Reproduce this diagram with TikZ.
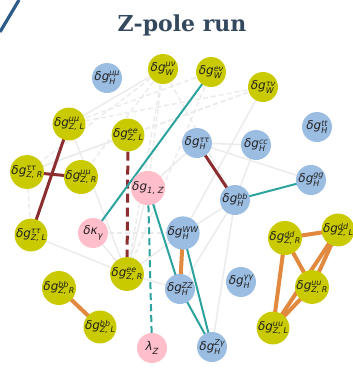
\documentclass[tikz,border=0pt]{standalone}
\usepackage{fontspec}
\setmainfont{DejaVu Sans}
\newfontfamily\titlefont{DejaVu Serif}
\usetikzlibrary{backgrounds}
\definecolor{yel}{RGB}{202,202,0}
\definecolor{blu}{RGB}{155,189,226}
\definecolor{pnk}{RGB}{255,190,202}
\definecolor{dred}{RGB}{140,45,48}
\definecolor{teal2}{RGB}{44,163,158}
\definecolor{orng}{RGB}{225,137,62}
\definecolor{ttl}{RGB}{52,73,94}
\definecolor{deco}{RGB}{44,92,135}
\definecolor{txt}{RGB}{34,34,34}
% superscript over subscript, both set after the symbol
\newcommand\supsub[2]{\raisebox{-0.55ex}{\vbox{\baselineskip=6.8pt\hbox{\fontsize{8}{8}\selectfont #1}\hbox{\fontsize{8}{8}\selectfont #2}}}}
\newcommand\dg[2]{δg\supsub{#1}{#2}}
\newcommand\lowidx[1]{\raisebox{-0.5ex}{\fontsize{8.5}{8.5}\selectfont #1}}
\tikzset{
  vtx/.style={circle, inner sep=0pt, minimum size=30pt, text=txt,
    font=\fontsize{12}{12}\selectfont\itshape},
  yv/.style={vtx, fill=yel},
  bv/.style={vtx, fill=blu},
  pv/.style={vtx, fill=pnk},
  faint/.style={draw=black!8, line width=1.4pt},
  faintd/.style={faint, dash pattern=on 5pt off 3pt},
  redl/.style={draw=dred, line width=3pt},
  tealline/.style={draw=teal2, line width=2pt},
  orl/.style={draw=orng, line width=4pt},
}
\begin{document}
\begin{tikzpicture}[x=1pt, y=-1pt]
\useasboundingbox (0,0) rectangle (353,381);

% corner decoration and title
\coordinate (d1) at (0,32);
\coordinate (d2) at (19,0);
\draw[deco, line width=3.2pt] (d1) -- (d2);
\node[anchor=base, text=ttl, font=\titlefont\bfseries\fontsize{22}{24}\selectfont] (title) at (182,31) {Z-pole run};

% vertices
\node[bv] (muH)  at (107,78)  {\dg{μμ}{H}};
\node[yv] (muW)  at (163,69)  {\dg{μν}{W}};
\node[yv] (eW)   at (211,72)  {\dg{eν}{W}};
\node[yv] (tauW) at (263,87)  {\dg{τν}{W}};
\node[yv] (muZL) at (69,124)  {\dg{μμ}{Z, L}};
\node[yv] (eeZL) at (128,135) {\dg{ee}{Z, L}};
\node[bv] (tauH) at (197,143) {\dg{ττ}{H}};
\node[bv] (ccH)  at (256,145) {\dg{cc}{H}};
\node[bv] (ttH)  at (317,127) {\dg{tt}{H}};
\node[yv] (tauZR) at (27,172) {\dg{ττ}{Z, R}};
\node[yv] (muZR) at (81,177)  {\dg{μμ}{Z, R}};
\node[pv] (g1Z)  at (148,188) {δg\lowidx{1, Z}};
\node[bv] (bbH)  at (235,200) {\dg{bb}{H}};
\node[bv] (ggH)  at (311,180) {\dg{gg}{H}};
\node[pv] (kg)   at (93,233)  {δκ\lowidx{γ}};
\node[yv] (tauZL) at (31,235) {\dg{ττ}{Z, L}};
\node[bv] (WWH)  at (183,233) {\dg{WW}{H}};
\node[yv] (ddZR) at (285,238) {\dg{dd}{Z, R}};
\node[yv] (ddZL) at (338,230) {\dg{dd}{Z, L}};
\node[yv] (eeZR) at (127,274) {\dg{ee}{Z, R}};
\node[bv] (ZZH)  at (180,289) {\dg{ZZ}{H}};
\node[bv] (yyH)  at (241,282) {\dg{γγ}{H}};
\node[yv] (uuZR) at (312,287) {\dg{uu}{Z, R}};
\node[yv] (bbZR) at (59,288)  {\dg{bb}{Z, R}};
\node[yv] (bbZL) at (100,327) {\dg{bb}{Z, L}};
\node[pv] (lZ)   at (152,348) {λ\lowidx{Z}};
\node[bv] (ZyH)  at (212,347) {\dg{Zγ}{H}};
\node[yv] (uuZL) at (273,328) {\dg{uu}{Z, L}};

\begin{scope}[on background layer]
\fill[white] (0,0) rectangle (353,381);
% weak links
\path[faint] (muW.center) -- (muZL.center);
\path[faintd] (muW.center) -- (muZR.center);
\path[faintd] (muW.center) -- (eeZR.center);
\path[faintd] (muW.center) -- (tauZR.center);
\path[faintd] (muW.center) -- (bbH.center);
\path[faintd] (muW.center) -- (g1Z.center);
\path[faintd] (tauW.center) -- (muZL.center);
\path[faintd] (tauW.center) -- (tauZR.center);
\path[faintd] (tauW.center) -- (eeZL.center);
\path[faint] (tauW.center) -- (WWH.center);
\path[faintd] (eW.center) -- (muZL.center);
\path[faintd] (eW.center) -- (eeZR.center);
\path[faintd] (tauZR.center) -- (tauZL.center);
\path[faint] (muZL.center) -- (eeZR.center);
\path[faint] (tauZL.center) -- (eeZR.center);
\path[faint] (tauZR.center) -- (eeZL.center);
\path[faintd] (kg.center) -- (WWH.center);
\path[faint] (kg.center) -- (eeZR.center);
\path[faint] (g1Z.center) -- (eeZR.center);
\path[faint] (g1Z.center) -- (tauH.center);
\path[faint] (tauH.center) -- (ccH.center);
\path[faint] (tauH.center) -- (ggH.center);
\path[faint] (ccH.center) -- (bbH.center);
\path[faint] (bbH.center) -- (WWH.center);
\path[faint] (bbH.center) -- (ZyH.center);
\path[faint] (bbH.center) -- (ZZH.center);
\path[faint] (eeZR.center) -- (ZZH.center);
\path[faint] (WWH.center) -- (eeZR.center);

% strong links
\path[redl] (muZL.center) -- (tauZL.center);
\path[redl] (tauZR.center) -- (muZR.center);
\path[redl, dash pattern=on 9pt off 5pt] (eeZL) -- (eeZR);
\path[redl] (tauH.center) -- (bbH.center);
\path[tealline] (eW.center) -- (kg.center);
\path[tealline] (bbH.center) -- (ggH.center);
\path[tealline] (g1Z.center) -- (ZZH.center);
\path[tealline] (ZZH.center) -- (ZyH.center);
\path[tealline] (WWH.center) -- (ZyH.center);
\path[tealline, dash pattern=on 7pt off 4pt] (g1Z) -- (lZ);
\path[orl] (WWH.center) -- (ZZH.center);
\path[orl] (bbZR.center) -- (bbZL.center);
\path[orl] (ddZR.center) -- (ddZL.center);
\path[orl] (ddZR.center) -- (uuZR.center);
\path[orl] (ddZR.center) -- (uuZL.center);
\path[orl] (ddZL.center) -- (uuZR.center);
\path[orl] (ddZL.center) -- (uuZL.center);
\path[orl] (uuZR.center) -- (uuZL.center);
\end{scope}
\end{tikzpicture}
\end{document}
